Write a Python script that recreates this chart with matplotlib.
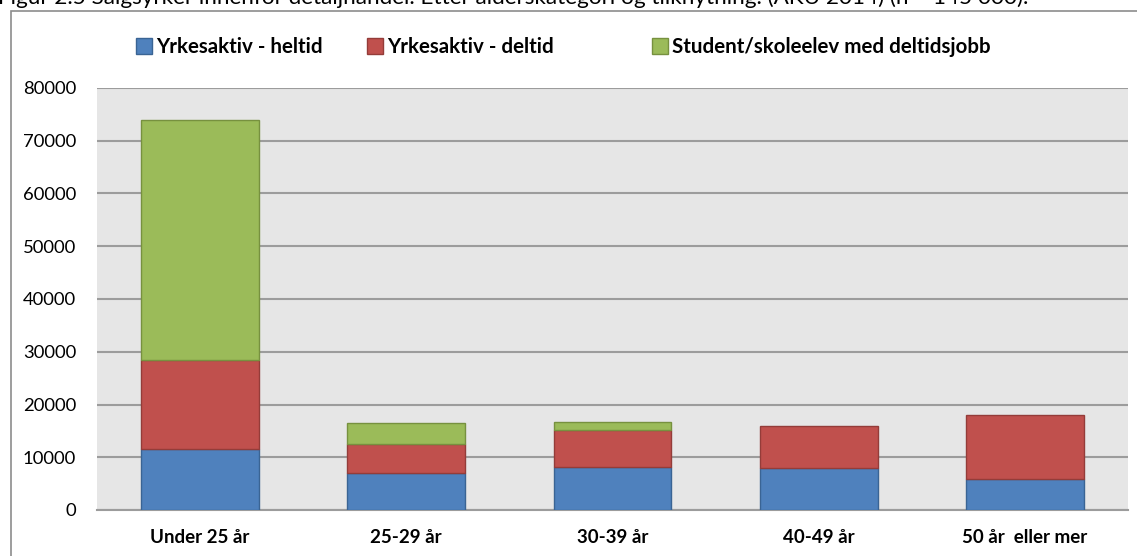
import matplotlib
matplotlib.use("Agg")
import matplotlib.pyplot as plt
from matplotlib.patches import Rectangle
import numpy as np

categories = ["Under 25 år", "25-29 år", "30-39 år", "40-49 år", "50 år  eller mer"]
series_names = ["Yrkesaktiv - heltid", "Yrkesaktiv - deltid", "Student/skoleelev med deltidsjobb"]
heltid = [11500, 7050, 8100, 7900, 5800]
deltid = [17000, 5400, 7100, 8050, 12300]
student = [45500, 4100, 1400, 0, 0]
yticks = [0, 10000, 20000, 30000, 40000, 50000, 60000, 70000, 80000]
caption = "Figur 2.5 Salgsyrker innenfor detaljhandel. Etter alderskategori og tilknytning. (AKU 2014) (n = 145 000)."

colors = ["#4f81bd", "#c0504d", "#9bbb59"]
edges = ["#3a6494", "#943c39", "#77913f"]

plt.rcParams['font.family'] = ['Lato', 'DejaVu Sans']

W, H = 1137, 556
fig = plt.figure(figsize=(W / 100, H / 100), dpi=100)
fig.patch.set_facecolor("white")

# outer chart frame (cropped at right/bottom)
fig.patches.append(Rectangle((11 / W, -0.1), 1.2, 1 - 11 / H + 0.1, transform=fig.transFigure,
                             fill=False, edgecolor="#8c8c8c", linewidth=1.2))

# caption cut off at top
fig.text(-2 / W, 1 - 4.5 / H, caption, fontsize=16.2, color="#000000", ha="left", va="baseline")

ax = fig.add_axes([97 / W, 1 - 510 / H, (1128 - 97) / W, (510 - 88) / H])
ax.set_facecolor("#e6e6e6")

x = np.arange(len(categories))
bottom = np.zeros(len(categories))
for vals, c, e, name in zip([heltid, deltid, student], colors, edges, series_names):
    v = np.array(vals, dtype=float)
    mask = v > 0
    ax.bar(x[mask], v[mask], bottom=bottom[mask], width=0.572, color=c, edgecolor=e,
           linewidth=1.0, zorder=3, label=name)
    bottom += v

ax.set_xlim(-0.5, len(categories) - 0.5)
ax.set_ylim(0, 80000)
ax.set_yticks(yticks)
ax.set_yticklabels([str(t) for t in yticks], fontsize=13.3)
ax.set_xticks(x)
ax.set_xticklabels(categories, fontsize=13.5, fontweight="bold")
ax.tick_params(axis="y", length=0, pad=15)
ax.tick_params(axis="x", length=0, pad=14)
ax.yaxis.grid(True, color="#9c9c9c", linewidth=1.5, zorder=1)
ax.set_axisbelow(True)
for s in ["left", "right", "top"]:
    ax.spines[s].set_visible(False)
ax.spines["bottom"].set_color("#9c9c9c")
ax.spines["bottom"].set_linewidth(1.5)

# legend, placed manually
leg_y = 46
sq = 16
positions = [136, 367, 652]
for px, name, c, e in zip(positions, series_names, colors, edges):
    fig.patches.append(Rectangle((px / W, 1 - (leg_y + sq / 2) / H), sq / W, sq / H,
                                 transform=fig.transFigure, facecolor=c, edgecolor=e, linewidth=1.0))
    fig.text((px + sq + 4) / W, 1 - (leg_y + 1) / H, name, fontsize=14.8, fontweight="bold",
             ha="left", va="center")

fig.savefig("out.png", dpi=100)
